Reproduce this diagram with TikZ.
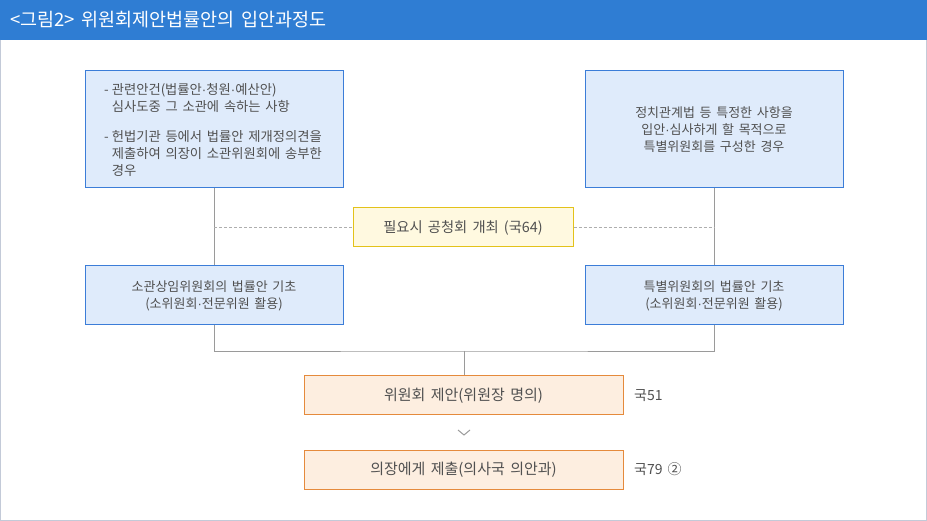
\documentclass[tikz,border=0pt]{standalone}
\usepackage{fontspec}
\setmainfont[WordSpace=1.6]{Noto Sans CJK KR}
\newfontfamily\dotfont{Liberation Sans}
\newcommand\mdot{{\dotfont·}}
\definecolor{hdr}{HTML}{2F7DD3}
\definecolor{frame}{HTML}{C3CAD8}
\definecolor{bluefill}{HTML}{DFEBFB}
\definecolor{blueline}{HTML}{3B7DD8}
\definecolor{yfill}{HTML}{FFF9E0}
\definecolor{yline}{HTML}{E3C21A}
\definecolor{ofill}{HTML}{FDEEE0}
\definecolor{oline}{HTML}{E58A3C}
\definecolor{txt}{HTML}{505050}
\definecolor{conn}{HTML}{9A9A9A}
\begin{document}
\begin{tikzpicture}[x=1pt,y=-1pt,
  bluebox/.style={draw=blueline,fill=bluefill,line width=1pt,minimum width=258pt,inner sep=0pt,text=txt,font=\fontsize{13}{17}\selectfont,align=center},
  yellowbox/.style={draw=yline,fill=yfill,line width=1pt,minimum width=220pt,minimum height=39pt,inner sep=0pt,text=txt,font=\fontsize{14.3}{17}\selectfont},
  orangebox/.style={draw=oline,fill=ofill,line width=1pt,minimum width=319pt,minimum height=39pt,inner sep=0pt,text=txt,font=\fontsize{15}{17}\selectfont},
  conline/.style={draw=conn,line width=0.8pt},
  dashline/.style={draw=conn!80,line width=0.7pt,dashed,dash pattern=on 3pt off 2pt},
  lab/.style={text=txt,font=\fontsize{14}{17}\selectfont,anchor=west,inner sep=0pt}]
\useasboundingbox (0,0) rectangle (927,521);
% header
\fill[hdr] (0,0) rectangle (927,40);
\node[anchor=west,text=white,font=\fontsize{18.5}{20}\selectfont,inner sep=0pt] (title) at (10,20) {<그림2> 위원회제안법률안의 입안과정도};
% frame
\draw[frame,line width=1pt] (0.5,40) -- (0.5,520.5) -- (926.5,520.5) -- (926.5,40);
% boxes
\node[bluebox,minimum height=117pt] (tl) at (214,129.5) {};
\node[anchor=north west,inner sep=0pt,text=txt,font=\fontsize{13.3}{17}\selectfont] (tltext) at (104,82) {%
\begin{tabular}{@{}l@{\hspace{3pt}}l@{}}
-& 관련안건(법률안\mdot 청원\mdot 예산안)\\
 & 심사도중 그 소관에 속하는 사항\\[13pt]
-& 헌법기관 등에서 법률안 제개정의견을\\
 & 제출하여 의장이 소관위원회에 송부한\\
 & 경우
\end{tabular}};
\node[bluebox,minimum height=117pt] (tr) at (714,129.5) {정치관계법 등 특정한 사항을\\입안\mdot 심사하게 할 목적으로\\특별위원회를 구성한 경우};
\node[yellowbox] (pub) at (463,227.5) {필요시 공청회 개최 (국64)};
\node[bluebox,minimum height=59pt] (ml) at (214,295.5) {소관상임위원회의 법률안 기초\\(소위원회\mdot 전문위원 활용)};
\node[bluebox,minimum height=59pt] (mr) at (714,295.5) {특별위원회의 법률안 기초\\(소위원회\mdot 전문위원 활용)};
\node[orangebox] (prop) at (463.5,395.5) {위원회 제안(위원장 명의)};
\node[orangebox] (sub) at (463.5,469.5) {의장에게 제출(의사국 의안과)};
\node[lab] (l51) at (634,396) {국51};
\node[lab] (l79) at (634,469) {국79 ②};
% connectors
\coordinate (j) at (464,351);
\draw[conline] (tl.south) -- (ml.north);
\draw[conline] (tr.south) -- (mr.north);
\draw[conline] (ml.south) |- (j) -| (mr.south);
\draw[conline] (j) -- (j |- prop.north);
\draw[dashline] (tl.south |- pub.west) -- (pub.west);
\draw[dashline] (pub.east) -- (tr.south |- pub.east);
% chevron
\coordinate (chev) at (464,435);
\draw[conn,line width=1pt] ([xshift=-6pt,yshift=5pt]chev) -- (chev) -- ([xshift=6pt,yshift=5pt]chev);
\end{tikzpicture}
\end{document}
